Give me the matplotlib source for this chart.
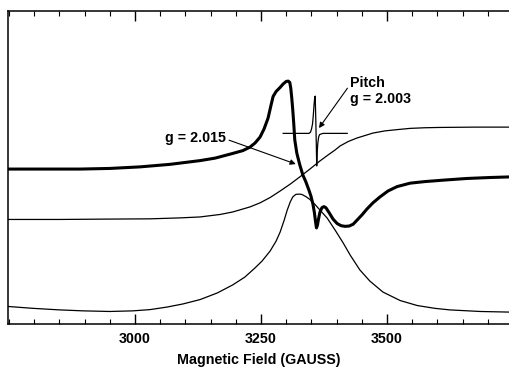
import matplotlib
matplotlib.use('Agg')
import matplotlib.pyplot as plt
from matplotlib.ticker import MultipleLocator

plt.rcParams['font.family'] = ['Liberation Sans', 'DejaVu Sans']
plt.rcParams['font.weight'] = 'bold'

# derivative EPR spectrum (thick)
deriv_x = [2748, 2831, 2891, 2950, 3010, 3069, 3129, 3159, 3194, 3214, 3228, 3238,
           3248, 3256, 3264, 3270, 3274, 3280, 3288, 3294, 3300, 3304, 3307, 3309,
           3311, 3313, 3315, 3317, 3321, 3327, 3333, 3339, 3345, 3349, 3353, 3356,
           3358, 3360, 3362, 3364, 3367, 3371, 3375, 3379, 3385, 3393, 3401, 3409,
           3417, 3425, 3433, 3440, 3450, 3460, 3472, 3486, 3502, 3520, 3546, 3575,
           3615, 3659, 3704, 3744]
deriv_y = [49.5, 49.5, 49.5, 49.7, 50.2, 51.0, 52.2, 53.0, 54.5, 55.4, 56.5, 57.8,
           59.7, 62.3, 65.8, 70.0, 72.7, 74.3, 75.6, 76.7, 77.5, 77.6, 77.2, 75.4,
           72.2, 68.4, 63.9, 58.8, 54.6, 50.8, 47.6, 45.4, 42.8, 40.9, 38.3, 35.5,
           32.9, 30.7, 31.6, 33.5, 35.8, 37.2, 37.5, 37.1, 35.6, 33.5, 32.1, 31.4,
           31.2, 31.3, 31.9, 33.1, 34.8, 36.7, 38.7, 40.6, 42.5, 43.9, 45.0, 45.5,
           46.0, 46.5, 46.8, 47.0]

# first integral (thin sigmoid)
integ_x = [2748, 2851, 2931, 3030, 3089, 3129, 3169, 3194, 3228, 3248, 3268, 3288,
           3308, 3327, 3347, 3367, 3383, 3397, 3407, 3423, 3440, 3456, 3472, 3496,
           3520, 3546, 3575, 3605, 3675, 3744]
integ_y = [33.4, 33.4, 33.5, 33.6, 33.9, 34.2, 35.0, 35.8, 37.4, 38.7, 40.4, 42.5,
           44.7, 47.0, 49.5, 52.1, 54.0, 55.6, 56.9, 58.3, 59.4, 60.2, 61.0, 61.7,
           62.1, 62.5, 62.7, 62.8, 62.9, 62.9]

# absorption (thin)
absn_x = [2748, 2798, 2851, 2897, 2950, 2996, 3030, 3063, 3095, 3129, 3163, 3194,
          3218, 3238, 3252, 3268, 3280, 3288, 3296, 3302, 3308, 3313, 3319, 3325,
          3331, 3339, 3347, 3357, 3367, 3381, 3397, 3413, 3427, 3446, 3466, 3492,
          3526, 3560, 3595, 3625, 3685, 3744]
absn_y = [5.6, 5.0, 4.5, 4.2, 4.0, 4.2, 4.6, 5.4, 6.4, 7.8, 9.9, 12.5,
          15.0, 17.9, 20.1, 23.3, 26.5, 29.4, 33.2, 36.4, 39.0, 40.6, 41.4, 41.5,
          41.4, 40.7, 39.8, 38.2, 36.4, 33.9, 30.0, 25.9, 22.0, 17.3, 13.7, 10.2,
          7.5, 5.9, 5.0, 4.5, 4.0, 3.8]

# pitch reference line
pitch_x = [3294.0, 3345.2, 3348.2, 3350.2, 3352.2, 3353.8, 3355.2, 3356.6, 3357.5,
           3358.7, 3359.7, 3360.5, 3361.5, 3362.7, 3364.3, 3366.1, 3369.1, 3373.0,
           3421.0]
pitch_y = [60.9, 60.9, 61.3, 62.3, 63.9, 66.8, 70.0, 72.5, 72.8,
           65.2, 57.2, 50.5, 54.9, 57.8, 59.7, 60.5, 60.7, 60.9,
           60.9]

fig = plt.figure(figsize=(5.1, 3.68), dpi=100)
ax = fig.add_axes([8 / 510, 1 - 324 / 368, 1 - 8 / 510, (324 - 11) / 368])

ax.plot(deriv_x, deriv_y, color='black', lw=2.2, solid_joinstyle='round')
ax.plot(integ_x, integ_y, color='black', lw=0.9)
ax.plot(absn_x, absn_y, color='black', lw=0.9)
ax.plot(pitch_x, pitch_y, color='black', lw=0.9)

ax.set_xlim(2748, 3744)
ax.set_ylim(0, 100)
ax.spines['right'].set_visible(False)
for s in ['left', 'top', 'bottom']:
    ax.spines[s].set_linewidth(1.1)

ax.xaxis.set_major_locator(MultipleLocator(250))
ax.xaxis.set_minor_locator(MultipleLocator(50))
ax.tick_params(axis='x', which='major', direction='in', length=7, width=1,
               top=True, labelsize=10.3, pad=6)
ax.tick_params(axis='x', which='minor', direction='in', length=3.5, width=0.8, top=True)
ax.set_yticks([])
ax.set_xticks([3000, 3250, 3500])
ax.set_xlabel('Magnetic Field (GAUSS)', fontsize=10.3, fontweight='bold', labelpad=5)

ax.annotate('g = 2.015', xy=(3319, 51.1), xytext=(3060, 59.5), fontsize=10.3,
            fontweight='bold', va='center', ha='left',
            arrowprops=dict(arrowstyle='-|>', color='black', lw=0.8,
                            mutation_scale=8, shrinkA=0, shrinkB=0,
                            relpos=(1.0, 0.4)))
ax.annotate('Pitch\ng = 2.003', xy=(3365, 62.6), xytext=(3427, 74.5), fontsize=10.3,
            fontweight='bold', va='center', ha='left', linespacing=1.15,
            arrowprops=dict(arrowstyle='-|>', color='black', lw=0.8,
                            mutation_scale=8, shrinkA=0, shrinkB=0,
                            relpos=(0.0, 0.72)))

fig.savefig('out.png', dpi=100)
